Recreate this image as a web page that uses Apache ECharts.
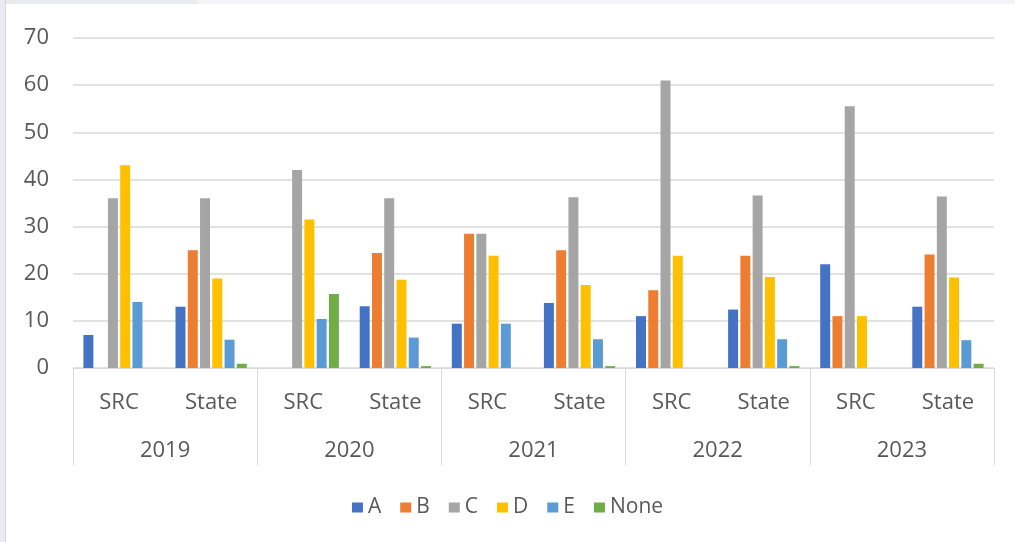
<!DOCTYPE html>
<html>
<head>
<meta charset="utf-8">
<script src="https://cdn.jsdelivr.net/npm/echarts@6/dist/echarts.min.js"></script>
<style>
  html, body { margin: 0; padding: 0; background: #fff; }
  #wrap { position: relative; width: 1015px; height: 542px; overflow: hidden; }
  #chart { position: absolute; left: 0; top: 0; width: 1015px; height: 542px; }
  #stripL { position: absolute; left: 0; top: 0; width: 5px; height: 542px; background: #e9ebf0; border-right: 1px solid #d6d6d9; }
  #stripT1 { position: absolute; left: 0; top: 0; width: 197px; height: 4px; background: #e9ebf0; }
  #stripT2 { position: absolute; left: 197px; top: 0; width: 818px; height: 4px; background: #f4f4f6; }
</style>
</head>
<body>
<div id="wrap">
  <div id="chart"></div>
  <div id="stripT1"></div>
  <div id="stripT2"></div>
  <div id="stripL"></div>
</div>
<script>
const categories = ['SRC', 'State', 'SRC', 'State', 'SRC', 'State', 'SRC', 'State', 'SRC', 'State'];
const years = ['2019', '2020', '2021', '2022', '2023'];
const seriesNames = ['A', 'B', 'C', 'D', 'E', 'None'];
const seriesColors = ['#4472C4', '#ED7D31', '#A5A5A5', '#FFC000', '#5B9BD5', '#70AD47'];
const valuesA    = [7, 13, 0, 13.1, 9.4, 13.8, 11, 12.4, 22, 13];
const valuesB    = [0, 25, 0, 24.4, 28.5, 25, 16.5, 23.8, 11, 24.1];
const valuesC    = [36, 36, 42, 36, 28.5, 36.2, 61, 36.6, 55.5, 36.4];
const valuesD    = [43, 19, 31.5, 18.7, 23.8, 17.6, 23.8, 19.3, 11, 19.2];
const valuesE    = [14, 6, 10.4, 6.45, 9.4, 6.1, 0, 6.1, 0, 5.9];
const valuesNone = [0, 0.9, 15.7, 0.4, 0, 0.4, 0, 0.4, 0, 0.9];
const yTicks = { min: 0, max: 70, interval: 10 };

const allValues = [valuesA, valuesB, valuesC, valuesD, valuesE, valuesNone];
const font = "'Open Sans', 'Liberation Sans', sans-serif";
const textColor = '#595959';
const lineColor = '#d9d9d9';

const chart = echarts.init(document.getElementById('chart'), null, { renderer: 'canvas' });
chart.setOption({
  animation: false,
  backgroundColor: '#ffffff',
  textStyle: { fontFamily: font },
  grid: { left: 73, right: 21, top: 38, bottom: 174, containLabel: false },
  legend: {
    data: seriesNames,
    icon: 'rect',
    bottom: 19,
    left: 'center',
    itemWidth: 11,
    itemHeight: 10,
    itemGap: 19,
    itemStyle: { borderWidth: 0 },
    textStyle: { fontFamily: font, fontSize: 21, color: textColor }
  },
  xAxis: [
    {
      type: 'category',
      data: categories,
      position: 'bottom',
      axisLine: { show: true, lineStyle: { color: lineColor, width: 1 } },
      axisTick: { show: false },
      axisLabel: { fontFamily: font, fontSize: 22, color: textColor, margin: 24, interval: 0 }
    },
    {
      type: 'category',
      data: years,
      position: 'bottom',
      gridIndex: 0,
      axisLine: { show: false },
      axisTick: { show: true, length: 97, interval: 0, lineStyle: { color: lineColor, width: 1 } },
      axisLabel: { fontFamily: font, fontSize: 22, color: textColor, margin: 72, interval: 0 },
      splitLine: { show: false }
    }
  ],
  yAxis: {
    type: 'value',
    min: yTicks.min,
    max: yTicks.max,
    interval: yTicks.interval,
    axisLine: { show: false },
    axisTick: { show: false },
    axisLabel: { fontFamily: font, fontSize: 22, color: textColor, margin: 24 },
    splitLine: { show: true, lineStyle: { color: lineColor, width: 1.5 } }
  },
  series: seriesNames.map((name, i) => ({
    name: name,
    type: 'bar',
    xAxisIndex: 0,
    data: allValues[i],
    barGap: '23%',
    barCategoryGap: '22.6%',
    itemStyle: { color: seriesColors[i] }
  }))
});
</script>
</body>
</html>
